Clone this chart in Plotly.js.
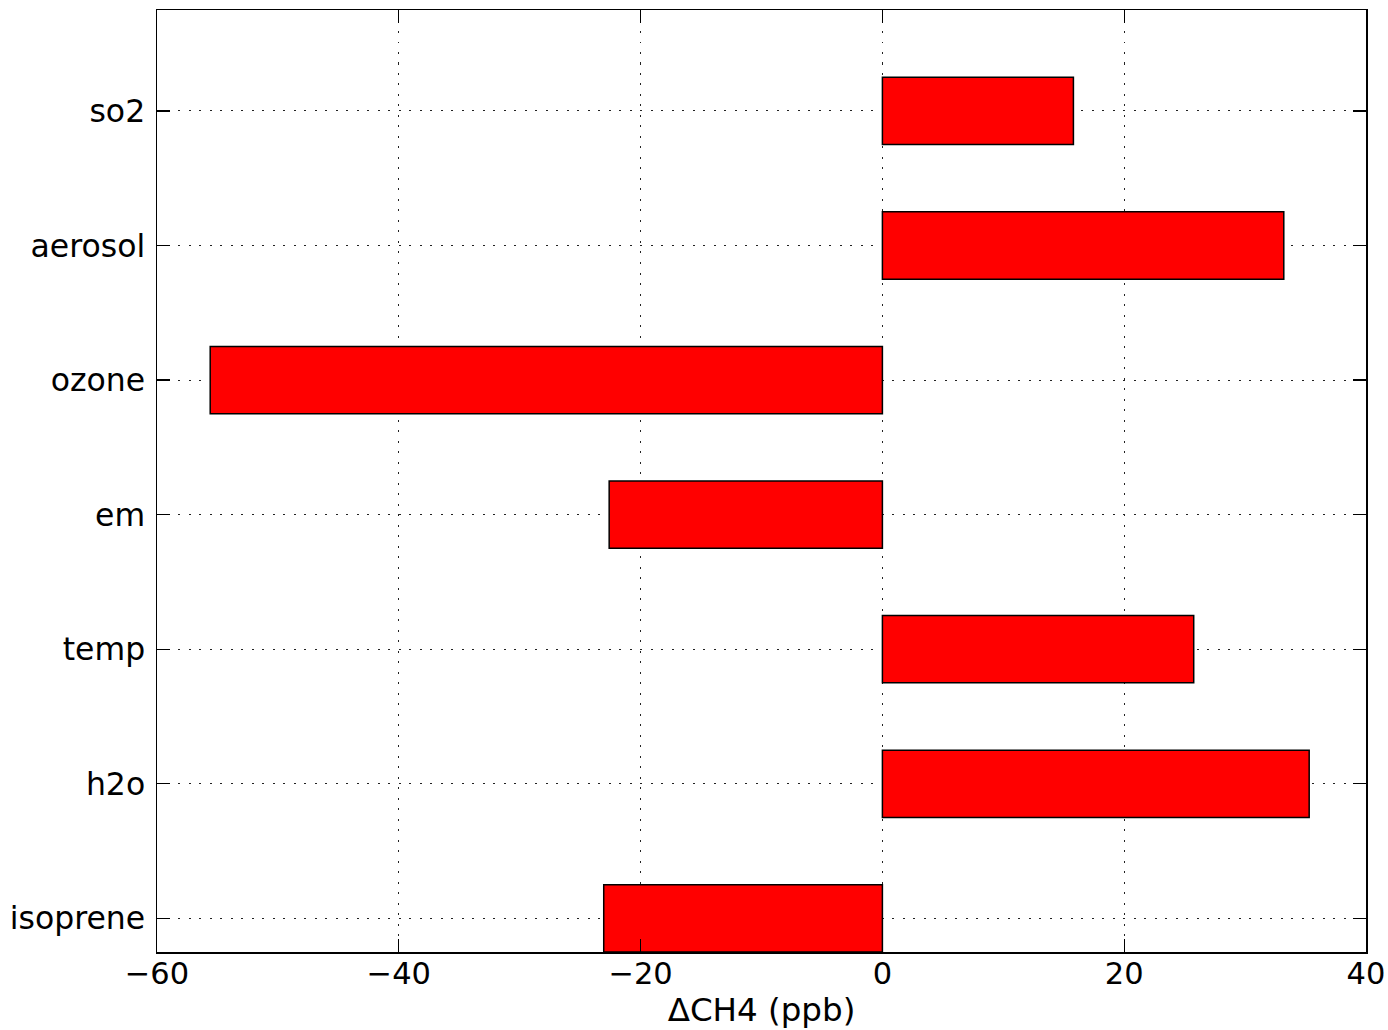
<!DOCTYPE html>
<html>
<head>
<meta charset="utf-8">
<script src="https://cdn.plot.ly/plotly-3.0.1.min.js"></script>
<style>
  html, body { margin: 0; padding: 0; background: #ffffff; }
  #chart { width: 1388px; height: 1030px; }
</style>
</head>
<body>
<div id="chart"></div>
<script>
// Change in methane (ppb) attributed to each process, bottom to top
const categories = ['isoprene', 'h2o', 'temp', 'em', 'ozone', 'aerosol', 'so2'];
const deltaCH4 = [-23.05, 35.3, 25.75, -22.6, -55.6, 33.2, 15.8];
const xTickVals = [-60, -40, -20, 0, 20, 40];

const family = 'DejaVu Sans, sans-serif';
const xTickFont = { family: family, size: 30.5, color: '#000000' };
const yTickFont = { family: family, size: 31.5, color: '#000000' };
const titleFont = { family: family, size: 32.5, color: '#000000' };

const trace = {
  type: 'bar',
  orientation: 'h',
  y: categories,
  x: deltaCH4,
  width: 0.5,
  marker: { color: '#ff0000', line: { color: '#000000', width: 1.5 } },
  hoverinfo: 'x+y'
};

const axisCommon = {
  showline: true,
  linecolor: '#000000',
  linewidth: 1.5,
  mirror: 'ticks',
  ticks: 'inside',
  ticklen: 13,
  tickwidth: 1.2,
  tickcolor: '#000000',
  showgrid: true,
  gridcolor: '#222222',
  gridwidth: 1,
  griddash: '2px,8.5px',
  zeroline: false,
  layer: 'above traces'
};

const layout = {
  width: 1388,
  height: 1030,
  margin: { l: 157, r: 22, t: 10, b: 78 },
  paper_bgcolor: '#ffffff',
  plot_bgcolor: '#ffffff',
  showlegend: false,
  font: xTickFont,
  xaxis: Object.assign({}, axisCommon, {
    range: [-60, 40],
    tickvals: xTickVals,
    tickfont: xTickFont,
    ticklabelstandoff: -6,
    title: { text: 'ΔCH4 (ppb)', font: titleFont, standoff: 3 }
  }),
  yaxis: Object.assign({}, axisCommon, {
    type: 'category',
    range: [-0.25, 6.75],
    tickfont: yTickFont,
    ticklabelstandoff: 4
  })
};

Plotly.newPlot('chart', [trace], layout, { displayModeBar: false, staticPlot: true });
</script>
</body>
</html>
